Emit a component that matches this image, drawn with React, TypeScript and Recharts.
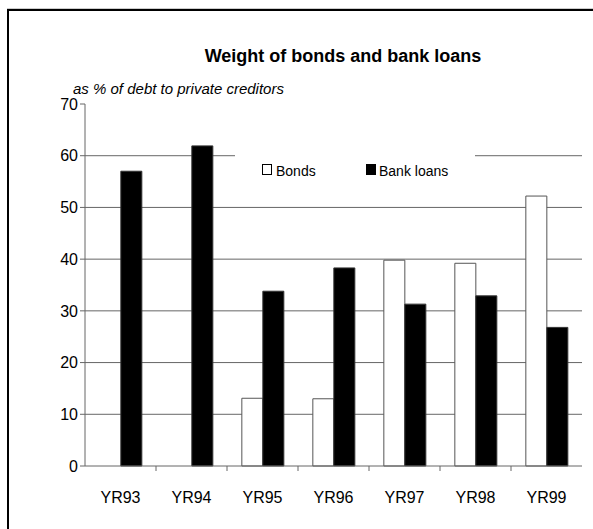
import { BarChart, Bar, XAxis, YAxis, CartesianGrid, Legend } from 'recharts';

const years = ['YR93', 'YR94', 'YR95', 'YR96', 'YR97', 'YR98', 'YR99'];
const bonds = [0, 0, 13.1, 13, 39.8, 39.2, 52.2];
const bankLoans = [57, 61.9, 33.8, 38.3, 31.3, 32.9, 26.8];
const yTicks = [0, 10, 20, 30, 40, 50, 60, 70];
const gridValues = [10, 20, 30, 40, 50, 60];

const data = years.map((year, i) => ({ year, bonds: bonds[i], bankLoans: bankLoans[i] }));

const FONT = '"Liberation Sans", Arial, sans-serif';
const GRID = '#666';
const TICK_SIZE = 5;
const TICK_MARGIN = 21;

// year label at the band centre, small tick mark at the band's right edge
function YearTick(props: any) {
  const { x, y, payload, width, visibleTicksCount } = props;
  const count = visibleTicksCount || years.length;
  const half = payload && payload.offset > 0 ? payload.offset : width / count / 2;
  const axisY = y - TICK_SIZE - TICK_MARGIN;
  const isLast = payload?.value === years[years.length - 1];
  const showLine = !isLast && Number.isFinite(half) && half > 0;
  return (
    <g>
      {showLine && (
        <line x1={x + half} x2={x + half} y1={axisY} y2={axisY + TICK_SIZE} stroke={GRID} strokeWidth={1} />
      )}
      <text x={x} y={y} dy="0.71em" textAnchor="middle" fill="#000" fontSize={16} fontFamily={FONT}>
        {payload.value}
      </text>
    </g>
  );
}

function LegendBox() {
  const text = { position: 'absolute' as const, top: 23, fontSize: 14, lineHeight: '16px', color: '#000' };
  const mark = { position: 'absolute' as const, top: 24, width: 8, height: 9 };
  return (
    <div style={{ position: 'relative', width: '100%', height: '100%', fontFamily: FONT }}>
      <div style={{ ...mark, left: 27, background: '#fff', border: '1px solid #000' }} />
      <span style={{ ...text, left: 41 }}>Bonds</span>
      <div style={{ ...mark, left: 131, background: '#000', border: '1px solid #000' }} />
      <span style={{ ...text, left: 144 }}>Bank loans</span>
    </div>
  );
}

export default function App() {
  return (
    <div style={{ position: 'absolute', left: 0, top: 0, width: 593, height: 529, overflow: 'hidden', background: '#fff', fontFamily: FONT }}>
      <div style={{ position: 'absolute', left: 7, top: 9, width: 620, height: 560, border: '2px solid #000', boxShadow: '0 -1px 0 #ccc' }} />
      <div style={{ position: 'absolute', left: 0, width: 686, top: 46, textAlign: 'center', fontSize: 18, fontWeight: 'bold', lineHeight: '20px' }}>
        Weight of bonds and bank loans
      </div>
      <div style={{ position: 'absolute', left: 73, top: 80, fontSize: 15, fontStyle: 'italic', lineHeight: '18px' }}>
        as % of debt to private creditors
      </div>
      <div style={{ position: 'absolute', left: 0, top: 0 }}>
        <BarChart
          width={593}
          height={529}
          data={data}
          margin={{ top: 104, right: 11, bottom: 33, left: 25 }}
          barCategoryGap="20.9%"
          barGap={0}
        >
          <CartesianGrid vertical={false} stroke={GRID} horizontalValues={gridValues} />
          <XAxis
            dataKey="year"
            tickLine={false}
            tickSize={TICK_SIZE}
            tickMargin={TICK_MARGIN}
            axisLine={{ stroke: GRID }}
            tick={<YearTick />}
            height={30}
            interval={0}
          />
          <YAxis
            domain={[0, 70]}
            ticks={yTicks}
            width={60}
            tickSize={5}
            tickMargin={2}
            axisLine={{ stroke: GRID }}
            tickLine={{ stroke: GRID }}
            tick={{ fill: '#000', fontSize: 16, fontFamily: FONT }}
          />
          <Legend
            layout="horizontal"
            verticalAlign="middle"
            align="center"
            wrapperStyle={{ left: 235, top: 140, width: 240, height: 40, background: '#fff' }}
            content={() => <LegendBox />}
          />
          <Bar dataKey="bonds" name="Bonds" fill="#fff" stroke="#555" strokeWidth={1} isAnimationActive={false} />
          <Bar dataKey="bankLoans" name="Bank loans" fill="#000" stroke="#333" strokeWidth={1} isAnimationActive={false} />
        </BarChart>
      </div>
    </div>
  );
}
